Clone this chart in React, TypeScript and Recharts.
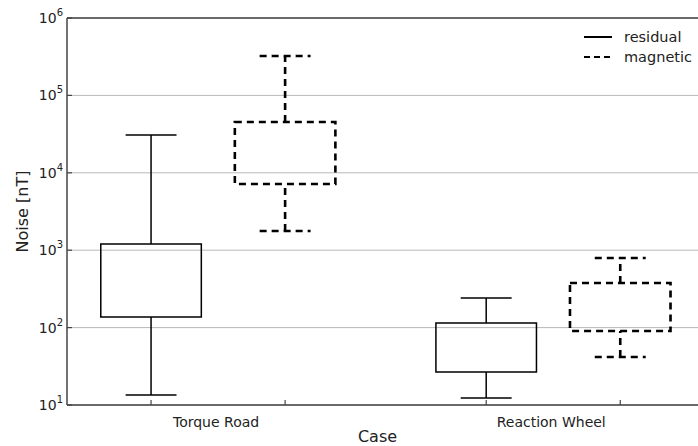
import {
  ComposedChart,
  XAxis,
  YAxis,
  CartesianGrid,
  ReferenceArea,
  ReferenceLine,
  Scatter,
  Label,
} from "recharts";

const categories = ["Torque Road", "Reaction Wheel"];
// [lower whisker, lower quartile, upper quartile, upper whisker] per category
const residual = [
  [13.5, 137, 1200, 30800],
  [12.3, 26.7, 115, 241],
];
const magnetic = [
  [1770, 7160, 45300, 323000],
  [41.7, 90.4, 377, 792],
];
const yTicks = [10, 100, 1000, 10000, 100000, 1000000];

const FONT = "'DejaVu Sans', sans-serif";
const INK = "#222";

const center = (i: number) => 1.5 + 2.5 * i;
const series = [
  { name: "residual", values: residual, offset: -0.5, dash: undefined as string | undefined, width: 1.5 },
  { name: "magnetic", values: magnetic, offset: 0.5, dash: "7 5", width: 2.6 },
];

const boxes = series.flatMap((s) =>
  s.values.map((v, i) => ({
    x: center(i) + s.offset,
    low: v[0],
    q1: v[1],
    q3: v[2],
    high: v[3],
    dash: s.dash,
    width: s.width,
  }))
);

const tickPositions = boxes.map((b) => b.x);
const labelPositions = categories.map((_, i) => center(i));
const xTicks = [...tickPositions, ...labelPositions].sort((a, b) => a - b);

function XTick(props: any) {
  const { x, y, payload } = props;
  const v = payload.value;
  const li = labelPositions.indexOf(v);
  if (li >= 0) {
    return (
      <text x={x - 2} y={y + 22} textAnchor="middle" fontFamily={FONT} fontSize={14} fill={INK}>
        {categories[li]}
      </text>
    );
  }
  return <line x1={x} x2={x} y1={y} y2={y - 5} stroke="#444" strokeWidth={1.2} />;
}

function YTick(props: any) {
  const { x, y, payload } = props;
  const exp = Math.round(Math.log10(payload.value));
  return (
    <g>
      <text x={x} y={y + 5} textAnchor="end" fontFamily={FONT} fill={INK}>
        <tspan fontSize={14}>10</tspan>
        <tspan fontSize={10} dy={-7}>
          {exp}
        </tspan>
      </text>
      <line x1={x + 4} x2={x + 9} y1={y} y2={y} stroke="#444" strokeWidth={1.2} />
    </g>
  );
}

export default function App() {
  const halfBox = 0.375;
  const halfCap = 0.19;
  return (
    <div style={{ position: "fixed", left: 0, top: 0, width: 698, height: 446, background: "#fff" }}>
      <ComposedChart
        width={698}
        height={446}
        data={boxes}
        margin={{ top: 18, right: 0, bottom: 0, left: 0 }}
      >
        <CartesianGrid vertical={false} stroke="#b8b8b8" strokeWidth={1} />
        <XAxis
          dataKey="x"
          type="number"
          domain={[0.373, 5.08]}
          allowDataOverflow
          ticks={xTicks}
          interval={0}
          tick={<XTick />}
          tickLine={false}
          tickSize={0}
          tickMargin={0}
          axisLine={{ stroke: "#444", strokeWidth: 1.5 }}
          height={41}
        >
          <Label
            value="Case"
            position="insideBottom"
            offset={4}
            dx={-5}
            fontFamily={FONT}
            fontSize={16}
            fill={INK}
          />
        </XAxis>
        <YAxis
          type="number"
          scale="log"
          domain={[10, 1000000]}
          allowDataOverflow
          ticks={yTicks}
          interval={0}
          tick={<YTick />}
          tickLine={false}
          tickSize={0}
          tickMargin={4}
          axisLine={{ stroke: "#444", strokeWidth: 1.5 }}
          width={67}
        >
          <Label
            value="Noise [nT]"
            angle={-90}
            position="insideLeft"
            offset={22}
            style={{ textAnchor: "middle" }}
            fontFamily={FONT}
            fontSize={16}
            fill={INK}
          />
        </YAxis>
        <ReferenceLine y={1000000} stroke="#444" strokeWidth={1.5} />
        <Scatter dataKey="q1" shape={() => <g />} isAnimationActive={false} />
        {boxes.map((b, i) => (
          <ReferenceArea
            key={"box" + i}
            x1={b.x - halfBox}
            x2={b.x + halfBox}
            y1={b.q1}
            y2={b.q3}
            fill="none"
            fillOpacity={0}
            stroke="#000"
            strokeWidth={b.width}
            strokeDasharray={b.dash}
          />
        ))}
        {boxes.flatMap((b, i) => [
          <ReferenceLine
            key={"wl" + i}
            segment={[{ x: b.x, y: b.low }, { x: b.x, y: b.q1 }]}
            stroke="#000"
            strokeWidth={b.width}
            strokeDasharray={b.dash}
          />,
          <ReferenceLine
            key={"wh" + i}
            segment={[{ x: b.x, y: b.q3 }, { x: b.x, y: b.high }]}
            stroke="#000"
            strokeWidth={b.width}
            strokeDasharray={b.dash}
          />,
          <ReferenceLine
            key={"cl" + i}
            segment={[{ x: b.x - halfCap, y: b.low }, { x: b.x + halfCap, y: b.low }]}
            stroke="#000"
            strokeWidth={b.width}
            strokeDasharray={b.dash}
          />,
          <ReferenceLine
            key={"ch" + i}
            segment={[{ x: b.x - halfCap, y: b.high }, { x: b.x + halfCap, y: b.high }]}
            stroke="#000"
            strokeWidth={b.width}
            strokeDasharray={b.dash}
          />,
        ])}
      </ComposedChart>
      <div style={{ position: "absolute", left: 584, top: 27, fontFamily: FONT, fontSize: 14.5, color: INK }}>
        {series.map((s) => (
          <div key={s.name} style={{ display: "flex", alignItems: "center", height: 20 }}>
            <svg width={30} height={6} style={{ marginRight: 10 }}>
              <line x1={0} x2={28} y1={3} y2={3} stroke="#000" strokeWidth={2} strokeDasharray={s.dash ? "6 4" : undefined} />
            </svg>
            <span>{s.name}</span>
          </div>
        ))}
      </div>
    </div>
  );
}
